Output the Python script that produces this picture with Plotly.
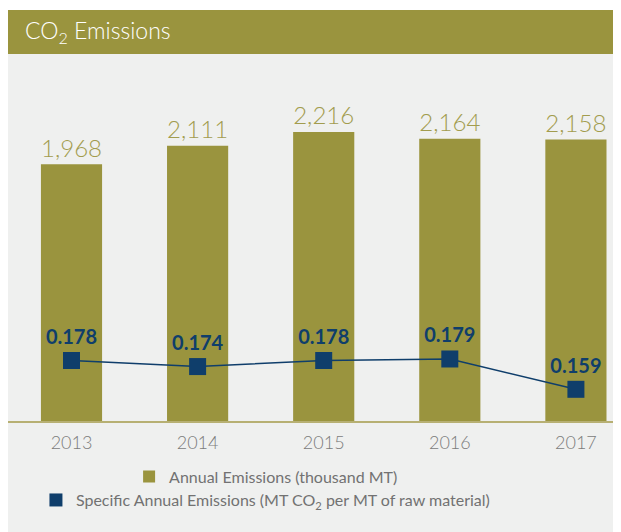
import plotly.graph_objects as go

years = ["2013", "2014", "2015", "2016", "2017"]
annual_emissions = [1968, 2111, 2216, 2164, 2158]
specific_emissions = [0.178, 0.174, 0.178, 0.179, 0.159]
annual_labels = ["1,968", "2,111", "2,216", "2,164", "2,158"]
specific_labels = ["0.178", "0.174", "0.178", "0.179", "0.159"]

OLIVE = "#9a943e"
NAVY = "#0f3e6b"
PANEL = "#eff0ef"
FONT = "Lato, 'Open Sans', sans-serif"

fig = go.Figure()

fig.add_trace(go.Bar(
    x=years,
    y=annual_emissions,
    name="Annual Emissions (thousand MT)",
    marker=dict(color=OLIVE, line=dict(width=0)),
    width=0.485,
    text=annual_labels,
    textposition="outside",
    textfont=dict(family=FONT, size=25, color="#a29c4e", weight=300),
    cliponaxis=False,
    legend="legend",
))

fig.add_trace(go.Scatter(
    x=years,
    y=specific_emissions,
    yaxis="y2",
    mode="lines+markers+text",
    line=dict(color=NAVY, width=1.5),
    marker=dict(symbol="square", size=17, color=NAVY),
    text=specific_labels,
    textposition="top center",
    textfont=dict(family=FONT, size=20, color=NAVY, weight=700),
    cliponaxis=False,
    showlegend=False,
))

# legend entry for the line series, shown as a plain square
fig.add_trace(go.Scatter(
    x=[None],
    y=[None],
    yaxis="y2",
    mode="markers",
    name="Specific Annual Emissions (MT CO<sub>2</sub> per MT of raw material)",
    marker=dict(symbol="square", size=13, color=NAVY),
    legend="legend2",
))

# header bar and grey panel (paper coords: 0 = baseline, 1 = plot top)
fig.add_shape(type="rect", xref="paper", yref="paper", x0=0, x1=1,
              y0=1.0166, y1=1.1385, fillcolor=OLIVE, line_width=0, layer="below")
fig.add_shape(type="rect", xref="paper", yref="paper", x0=0, x1=1,
              y0=-0.34, y1=1.0166, fillcolor=PANEL, line_width=0, layer="below")

fig.add_annotation(
    text="CO<sub>2</sub> Emissions",
    xref="paper", yref="paper", x=0.024, y=1.0776,
    xanchor="left", yanchor="middle", showarrow=False,
    font=dict(family=FONT, size=23, color="white", weight=300),
)

legend_common = dict(
    orientation="h",
    bgcolor="rgba(0,0,0,0)",
    font=dict(family=FONT, size=16, color="#727272"),
    xanchor="left",
    yanchor="middle",
    itemclick=False,
)

fig.update_layout(
    width=621,
    height=532,
    margin=dict(l=0, r=0, t=52, b=119),
    paper_bgcolor="white",
    plot_bgcolor="rgba(0,0,0,0)",
    font=dict(family=FONT),
    xaxis=dict(
        type="category",
        range=[-0.5036, 4.421],
        showgrid=False,
        zeroline=False,
        showline=True,
        linecolor="#b7b073",
        linewidth=1.5,
        ticks="",
        ticklabelstandoff=5,
        tickfont=dict(family=FONT, size=18, color="#7c7c7c", weight=300),
    ),
    yaxis=dict(range=[0, 2768], visible=False, showgrid=False, zeroline=False),
    yaxis2=dict(range=[0.1381, 0.3762], overlaying="y", visible=False,
                showgrid=False, zeroline=False),
    legend=dict(x=0.195, y=-0.154, **legend_common),
    legend2=dict(x=0.045, y=-0.219, **legend_common),
)

fig.write_html("out.html")
